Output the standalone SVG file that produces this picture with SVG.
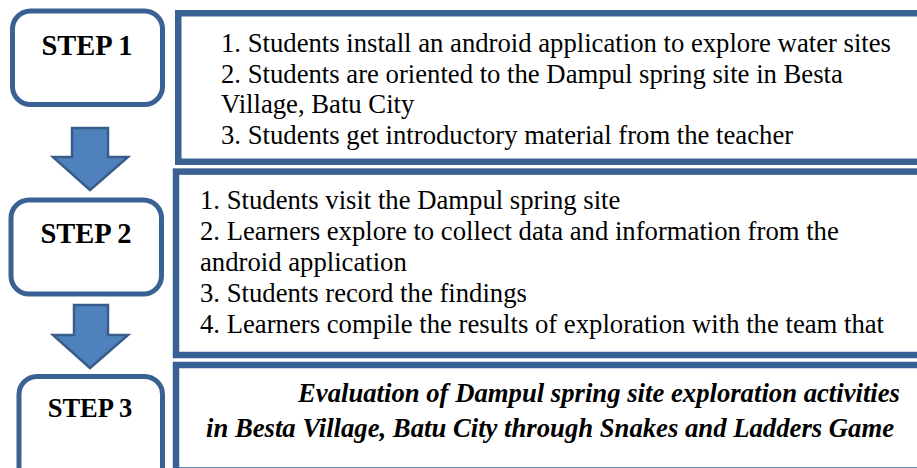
<svg xmlns="http://www.w3.org/2000/svg" width="917" height="468" viewBox="0 0 917 468">
<style>
.step{fill:#fff;stroke:#3A6193;stroke-width:5}
.box{fill:#fff;stroke:#3A6193;stroke-width:6.5}
.arrow{fill:#4F81BD;stroke:#385D8A;stroke-width:2.5;stroke-linejoin:miter}
.lbl{font-family:"Liberation Serif","Times New Roman",serif;font-weight:bold;fill:#000;text-anchor:middle}
.txt{font-family:"Liberation Serif","Times New Roman",serif;font-size:26.7px;fill:#000}
.bi{font-family:"Liberation Serif","Times New Roman",serif;font-size:26.7px;font-weight:bold;font-style:italic;fill:#000}
</style>
<rect width="917" height="468" fill="#fff"/>
<g id="connectors">
<path class="arrow" d="M72,128 H108 V157 H128 L90,190 L53,157 H72 Z"/>
<path class="arrow" d="M74,305 H108 V335 H128 L90,368 L53,335 H74 Z"/>
</g>
<g id="step1">
<rect class="step" x="12.5" y="11" width="150" height="93.5" rx="18"/>
<text class="lbl" x="87" y="55" font-size="28.5">STEP 1</text>
</g>
<g id="step2">
<rect class="step" x="11" y="200" width="150.5" height="94" rx="18"/>
<text class="lbl" x="86" y="243" font-size="28.5">STEP 2</text>
</g>
<g id="step3">
<rect class="step" x="19" y="376.5" width="143.5" height="110" rx="18"/>
<text class="lbl" x="90" y="417" font-size="26.5">STEP 3</text>
</g>
<g id="box1">
<rect class="box" x="178.25" y="13.25" width="760" height="148.5"/>
<text class="txt" x="221" y="52">1. Students install an android application to explore water sites</text>
<text class="txt" x="221" y="83">2. Students are oriented to the Dampul spring site in Besta</text>
<text class="txt" x="221" y="113">Village, Batu City</text>
<text class="txt" x="221" y="143.5">3. Students get introductory material from the teacher</text>
</g>
<g id="box2">
<rect class="box" x="176" y="171.6" width="760" height="183.4"/>
<text class="txt" x="200" y="209">1. Students visit the Dampul spring site</text>
<text class="txt" x="200" y="240">2. Learners explore to collect data and information from the</text>
<text class="txt" x="200" y="270.5">android application</text>
<text class="txt" x="200" y="301.5">3. Students record the findings</text>
<text class="txt" x="200" y="332.5">4. Learners compile the results of exploration with the team that</text>
</g>
<g id="box3">
<rect class="box" x="176" y="365" width="760" height="105.5"/>
<text class="bi" x="298" y="402">Evaluation of Dampul spring site exploration activities</text>
<text class="bi" x="206" y="437">in Besta Village, Batu City through Snakes and Ladders Game</text>
</g>
</svg>
